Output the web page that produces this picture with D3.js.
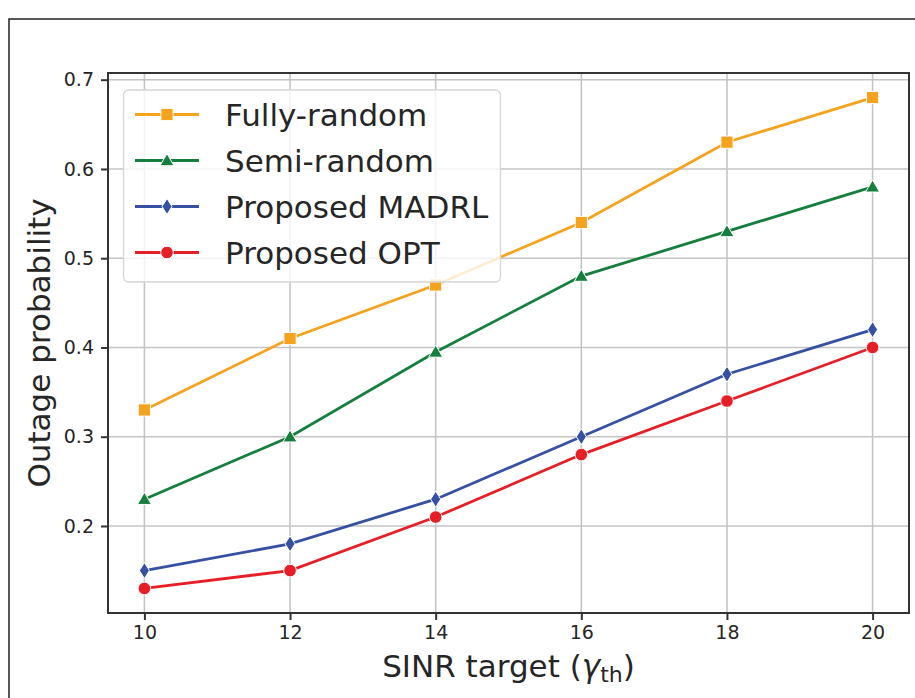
<!DOCTYPE html>
<html><head><meta charset="utf-8">
<script src="https://cdn.jsdelivr.net/npm/d3@7"></script>
<style>body{margin:0;background:#fff}svg{display:block}</style>
</head><body>
<script>
const xValues = [10, 12, 14, 16, 18, 20];
const fullyRandom = [0.33, 0.41, 0.47, 0.54, 0.63, 0.68];
const semiRandom = [0.23, 0.30, 0.395, 0.48, 0.53, 0.58];
const proposedMADRL = [0.15, 0.18, 0.23, 0.30, 0.37, 0.42];
const proposedOPT = [0.13, 0.15, 0.21, 0.28, 0.34, 0.40];
const seriesNames = ["Fully-random", "Semi-random", "Proposed MADRL", "Proposed OPT"];
const xTicks = [10, 12, 14, 16, 18, 20];
const yTicks = [0.2, 0.3, 0.4, 0.5, 0.6, 0.7];

const series = [
  {name: seriesNames[0], values: fullyRandom, color: "#f5a31e", marker: "square"},
  {name: seriesNames[1], values: semiRandom, color: "#167f3d", marker: "triangle"},
  {name: seriesNames[2], values: proposedMADRL, color: "#3650a2", marker: "diamond"},
  {name: seriesNames[3], values: proposedOPT, color: "#e61f26", marker: "circle"}
];

const W = 915, H = 698;
const svg = d3.select("body").append("svg").attr("width", W).attr("height", H);
const font = "DejaVu Sans, sans-serif";

// outer figure frame
svg.append("rect").attr("x", 9).attr("y", 19).attr("width", 1000).attr("height", 1000)
  .attr("fill", "none").attr("stroke", "#222").attr("stroke-width", 1.5);

const L = 108, R = 909, T = 73, B = 613;
const x = d3.scaleLinear().domain([9.5, 20.5]).range([L, R]);
const y = d3.scaleLinear().domain([0.1025, 0.7075]).range([B, T]);

// grid
const g = svg.append("g");
g.selectAll(".gx").data(xTicks).enter().append("line")
  .attr("x1", d => x(d)).attr("x2", d => x(d)).attr("y1", T).attr("y2", B)
  .attr("stroke", "#c4c4c4").attr("stroke-width", 1.6);
g.selectAll(".gy").data(yTicks).enter().append("line")
  .attr("y1", d => y(d)).attr("y2", d => y(d)).attr("x1", L).attr("x2", R)
  .attr("stroke", "#c4c4c4").attr("stroke-width", 1.6);

// axes
const xAxis = d3.axisBottom(x).tickValues(xTicks).tickSize(7).tickPadding(6).tickFormat(d3.format("d"));
const yAxis = d3.axisLeft(y).tickValues(yTicks).tickSize(7).tickPadding(7).tickFormat(d3.format(".1f"));
const gx = svg.append("g").attr("transform", `translate(0,${B})`).call(xAxis);
const gy = svg.append("g").attr("transform", `translate(${L},0)`).call(yAxis);
[gx, gy].forEach(a => {
  a.select(".domain").remove();
  a.selectAll(".tick line").attr("stroke", "#333").attr("stroke-width", 2);
  a.selectAll(".tick text").attr("fill", "#262626").style("font-family", font).style("font-size", "19px");
});

// lines
const line = d3.line().x((d, i) => x(xValues[i])).y(d => y(d));
const symbolFor = {
  square: d3.symbol().type(d3.symbolSquare).size(150),
  triangle: d3.symbol().type(d3.symbolTriangle).size(85),
  circle: d3.symbol().type(d3.symbolCircle).size(125)
};
function drawMarker(sel, s, cx, cy) {
  if (s.marker === "diamond") {
    sel.append("path").attr("d", `M${cx},${cy-8}L${cx+5},${cy}L${cx},${cy+8}L${cx-5},${cy}Z`)
      .attr("fill", s.color).attr("stroke", "#fff").attr("stroke-width", 1);
  } else {
    sel.append("path").attr("d", symbolFor[s.marker]()).attr("transform", `translate(${cx},${cy + (s.marker === "triangle" ? 1.2 : 0)})`)
      .attr("fill", s.color).attr("stroke", "#fff").attr("stroke-width", 1);
  }
}
const plot = svg.append("g");
series.forEach(s => {
  plot.append("path").datum(s.values).attr("d", line).attr("fill", "none")
    .attr("stroke", s.color).attr("stroke-width", 2.8);
  s.values.forEach((v, i) => drawMarker(plot, s, x(xValues[i]), y(v)));
});

// spines
svg.append("rect").attr("x", L).attr("y", T).attr("width", R - L).attr("height", B - T)
  .attr("fill", "none").attr("stroke", "#333").attr("stroke-width", 2);

// legend
const lg = svg.append("g");
lg.append("rect").attr("x", 123.5).attr("y", 90).attr("width", 377).attr("height", 192)
  .attr("rx", 5).attr("fill", "rgba(255,255,255,0.8)").attr("stroke", "#d6d6d6").attr("stroke-width", 1.3);
series.forEach((s, i) => {
  const cy = 114.5 + i * 46;
  lg.append("line").attr("x1", 135).attr("x2", 199).attr("y1", cy).attr("y2", cy)
    .attr("stroke", s.color).attr("stroke-width", 2.8);
  drawMarker(lg, s, 167, cy);
  lg.append("text").attr("x", 225).attr("y", cy).attr("dy", "0.36em").text(s.name)
    .attr("fill", "#262626").style("font-family", font).style("font-size", "31px");
});

// axis labels
svg.append("text").attr("transform", `translate(50,${(T + B) / 2}) rotate(-90)`)
  .attr("text-anchor", "middle").attr("fill", "#262626").style("font-family", font).style("font-size", "31px")
  .text("Outage probability");
const xl = svg.append("text").attr("x", (L + R) / 2).attr("y", 677).attr("text-anchor", "middle")
  .attr("fill", "#262626").style("font-family", font).style("font-size", "31px");
xl.append("tspan").text("SINR target (");
xl.append("tspan").text("γ").style("font-style", "italic");
xl.append("tspan").text("th").attr("dy", 5).style("font-size", "22px");
xl.append("tspan").text(")").attr("dy", -5);
</script>
</body></html>
